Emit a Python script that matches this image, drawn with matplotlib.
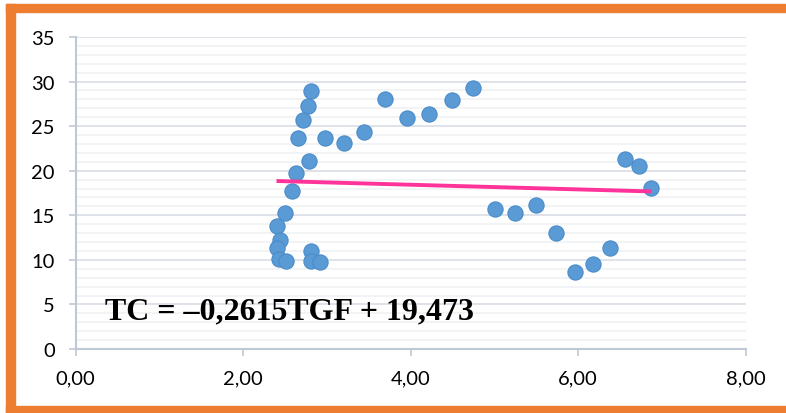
import matplotlib.pyplot as plt
from matplotlib.patches import Rectangle
from matplotlib.ticker import MultipleLocator, FuncFormatter

# valeurs (TGF, TC)
tgf = [2.81, 2.78, 2.715, 2.66, 2.98, 3.20, 3.44, 3.69, 2.79, 2.63, 2.58,
       3.96, 4.225, 4.49, 4.75, 6.56, 6.73, 6.875, 5.01, 5.25, 5.50, 5.735,
       6.38, 6.18, 5.965, 2.505, 2.405, 2.44, 2.40, 2.43, 2.51, 2.81, 2.815, 2.92]
tc = [28.9, 27.25, 25.7, 23.7, 23.7, 23.1, 24.3, 28.0, 21.1, 19.7, 17.7,
      25.9, 26.35, 27.95, 29.3, 21.35, 20.5, 18.07, 15.7, 15.3, 16.2, 13.0,
      11.3, 9.5, 8.66, 15.3, 13.8, 12.25, 11.3, 10.15, 9.9, 10.97, 9.9, 9.75]

# droite de tendance affichée
pente = -0.2615
origine = 19.473
equation = "TC = \u20130,2615TGF + 19,473"

plt.rcParams['font.family'] = ['Lato', 'DejaVu Sans']

fig = plt.figure(figsize=(7.86, 4.14), dpi=100)
ax = fig.add_axes([75.5 / 786, 64 / 414, 670 / 786, 312 / 414])

# cadre orange (gauche, haut, bas)
orange = '#ED7D31'
fig.patches.append(Rectangle((6 / 786, 0), 9 / 786, 409 / 414, transform=fig.transFigure,
                             color=orange, zorder=0))
fig.patches.append(Rectangle((6 / 786, 401 / 414), 780 / 786, 8 / 414,
                             transform=fig.transFigure, color=orange, zorder=0))
fig.patches.append(Rectangle((6 / 786, 0), 780 / 786, 7 / 414, transform=fig.transFigure,
                             color=orange, zorder=0))

ax.scatter(tgf, tc, s=120, color='#5B9BD5', edgecolors='#4A8BC8', linewidths=0.8, zorder=3)

xs = [min(tgf), max(tgf)]
ax.plot(xs, [pente * x + origine for x in xs], color='#FF3399', lw=2.8, zorder=4,
        solid_capstyle='butt')

ax.text(0.35, 4.3, equation, fontsize=23, fontweight='bold', family='Liberation Serif',
        va='center', ha='left', zorder=5)

ax.set_xlim(0, 8)
ax.set_ylim(0, 35)
ax.xaxis.set_major_locator(MultipleLocator(2))
ax.yaxis.set_major_locator(MultipleLocator(5))
ax.yaxis.set_minor_locator(MultipleLocator(1))
ax.xaxis.set_major_formatter(FuncFormatter(lambda v, p: f"{v:.2f}".replace('.', ',')))

ax.grid(axis='y', which='major', color='#D9DEE5', lw=1.2, zorder=0)
ax.grid(axis='y', which='minor', color='#EFF1F4', lw=1.2, zorder=0)
ax.set_axisbelow(True)

for s in ['top', 'right']:
    ax.spines[s].set_visible(False)
for s in ['left', 'bottom']:
    ax.spines[s].set_color('#BFC8D6')
    ax.spines[s].set_linewidth(1.5)

ax.tick_params(axis='both', which='major', color='#BFC8D6', width=1.2, length=5,
               labelsize=14.5, labelcolor='#000000')
ax.tick_params(axis='y', which='minor', length=0)
ax.tick_params(axis='y', pad=10)
ax.tick_params(axis='x', pad=10)

plt.savefig('out.png', dpi=100)
